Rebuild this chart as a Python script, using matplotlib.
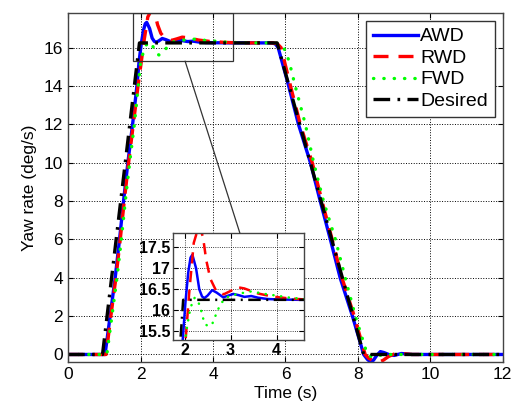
import matplotlib
matplotlib.use("Agg")
import matplotlib.pyplot as plt
from matplotlib.patches import Rectangle, ConnectionPatch

plt.rcParams['font.family'] = ['Liberation Sans', 'DejaVu Sans']

# yaw rate responses (deg/s) vs time (s)
t_awd = [0, 1.02, 1.16, 1.30, 1.42, 1.53, 1.65, 1.78, 1.90, 1.96, 2.02, 2.08, 2.13, 2.17,
         2.25, 2.32, 2.38, 2.43, 2.50, 2.60, 2.70, 2.84, 2.95, 3.06, 3.18, 3.30, 3.45, 3.60,
         3.80, 4.00, 4.50, 5.00, 5.62, 5.72, 5.80, 6.09, 6.36, 6.69, 6.96, 7.24, 7.51, 7.85,
         8.16, 8.26, 8.34, 8.43, 8.52, 8.62, 8.72, 8.85, 9.00, 9.20, 9.50, 12]
y_awd = [0, 0, 2, 4, 6, 8, 10, 12, 14, 15.3, 16.2, 16.9, 17.25, 17.32,
         17.0, 16.5, 16.33, 16.29, 16.35, 16.48, 16.42, 16.31, 16.35, 16.39, 16.36, 16.32, 16.34, 16.30,
         16.27, 16.26, 16.25, 16.25, 16.25, 16.2, 16.0, 14, 12, 10, 8, 6, 4, 2,
         0, -0.25, -0.38, -0.3, -0.05, 0.15, 0.1, 0.0, -0.05, 0.05, 0, 0]

t_rwd = [0, 1.05, 1.18, 1.32, 1.44, 1.55, 1.67, 1.80, 1.93, 2.03, 2.10, 2.20, 2.31, 2.40,
         2.47, 2.56, 2.68, 2.85, 3.00, 3.15, 3.30, 3.60, 3.90, 4.30, 4.60, 5.00, 5.65, 5.78,
         5.88, 6.14, 6.41, 6.74, 7.01, 7.29, 7.56, 7.90, 8.20, 8.30, 8.40, 8.50, 8.58, 8.70,
         8.85, 9.00, 9.20, 9.50, 12]
y_rwd = [0, 0, 2, 4, 6, 8, 10, 12, 14, 15.4, 16.4, 17.6, 18.0, 17.75,
         17.2, 16.75, 16.48, 16.38, 16.46, 16.55, 16.52, 16.40, 16.33, 16.28, 16.26, 16.25, 16.25, 16.2,
         16.0, 14, 12, 10, 8, 6, 4, 2, 0, -0.2, -0.3, -0.38, -0.4, -0.3,
         -0.1, 0.02, 0.05, 0, 0]

t_fwd = [0, 1.07, 1.21, 1.35, 1.47, 1.58, 1.70, 1.83, 1.92, 2.00, 2.06, 2.13, 2.22, 2.30,
         2.36, 2.43, 2.51, 2.61, 2.69, 2.76, 2.87, 3.00, 3.20, 3.45, 3.60, 3.80, 4.00, 4.30,
         4.60, 5.00, 5.70, 5.85, 5.98, 6.10, 6.27, 6.55, 6.78, 7.05, 7.38, 7.65, 7.93, 8.26,
         8.35, 8.43, 8.55, 8.70, 9.00, 12]
y_fwd = [0, 0, 2, 4, 6, 8, 10, 12, 13.7, 15.2, 15.65, 16.07, 16.3, 16.2,
         16.0, 15.7, 15.62, 15.7, 15.92, 16.1, 16.28, 16.35, 16.4, 16.45, 16.42, 16.38, 16.35, 16.3,
         16.27, 16.25, 16.25, 16.2, 15.9, 15.3, 14, 12, 10, 8, 6, 4, 2, 0,
         -0.1, -0.15, -0.08, 0, 0, 0]

t_des = [0, 0.95, 1.97, 5.77, 8.16, 12]
y_des = [0, 0, 16.25, 16.25, 0, 0]

labels = ['AWD', 'RWD', 'FWD', 'Desired']
colors = ['#0000ff', '#ff0000', '#00ff00', '#000000']
styles = ['-', (0, (4.5, 3)), (0, (0.1, 3.0)), (0, (5, 2.2, 0.8, 2.2))]
series = [(t_awd, y_awd), (t_rwd, y_rwd), (t_fwd, y_fwd), (t_des, y_des)]

fig = plt.figure(figsize=(5.12, 4.12), dpi=100)
ax = fig.add_axes([0.133, 0.121, 0.849, 0.847])

for (t, y), lab, c, ls in zip(series, labels, colors, styles):
    ax.plot(t, y, color=c, ls=ls, lw=2.4, label=lab,
            dash_capstyle='round' if lab == 'FWD' else 'butt')

ax.set_xlim(0, 12)
ax.set_ylim(-0.4, 17.8)
ax.set_xticks(range(0, 13, 2))
ax.set_yticks(range(0, 17, 2))
ax.grid(True, color='black', ls=':', lw=0.7)
ax.tick_params(direction='in', top=True, right=True, labelsize=12.5)
ax.set_xlabel('Time (s)', fontsize=12.5, labelpad=3)
ax.set_ylabel('Yaw rate (deg/s)', fontsize=12.5, labelpad=5)
for s in ax.spines.values():
    s.set_linewidth(1.0)
    s.set_color('#444444')

leg = ax.legend(loc='upper right', fontsize=14, handlelength=2.3, handletextpad=0.15,
                labelspacing=0.2, borderpad=0.35, borderaxespad=0.4, fancybox=False,
                framealpha=1, edgecolor='#333333')
leg.get_frame().set_linewidth(1.0)

# zoom window
x0, x1, y0, y1 = 1.8, 4.56, 15.3, 17.83
ax.add_patch(Rectangle((x0, y0), x1 - x0, y1 - y0, fill=False, ec='#333333', lw=0.9, zorder=5))

ins = fig.add_axes([0.338, 0.175, 0.256, 0.259])
for (t, y), lab, c, ls in zip(series, labels, colors, styles):
    ins.plot(t, y, color=c, ls=ls, lw=1.8,
             dash_capstyle='round' if lab == 'FWD' else 'butt')
ins.set_xlim(1.75, 4.6)
ins.set_ylim(15.3, 17.83)
ins.set_xticks([2, 3, 4])
ins.set_yticks([15.5, 16, 16.5, 17, 17.5])
ins.set_yticklabels(['15.5', '16', '16.5', '17', '17.5'])
ins.grid(True, color='black', ls=':', lw=0.6)
ins.tick_params(direction='in', top=True, right=True, labelsize=11.5, pad=2)
for lbl in ins.get_xticklabels() + ins.get_yticklabels():
    lbl.set_fontweight('bold')
for s in ins.spines.values():
    s.set_linewidth(1.0)
    s.set_color('#444444')

con = ConnectionPatch(xyA=(3.23, y0), coordsA=ax.transData,
                      xyB=(0.51, 1.0), coordsB=ins.transAxes,
                      color='#333333', lw=0.9)
fig.add_artist(con)

fig.savefig('out.png', dpi=100)
